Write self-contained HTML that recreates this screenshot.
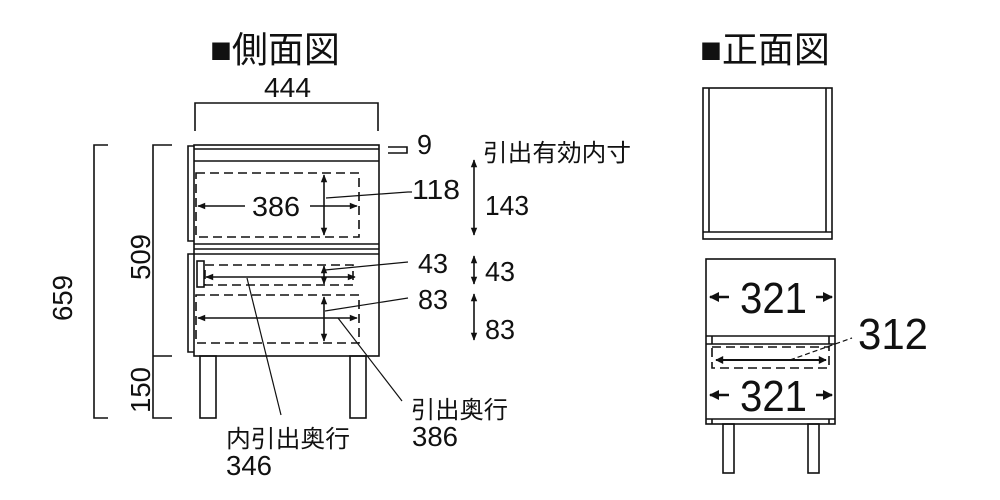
<!DOCTYPE html>
<html><head><meta charset="utf-8"><style>
html,body{margin:0;padding:0;background:#fff;}
svg{display:block;}
text{font-family:"Liberation Sans","Noto Sans CJK JP",sans-serif;fill:#111;}
</style></head><body>
<svg width="1000" height="500" viewBox="0 0 1000 500" xmlns="http://www.w3.org/2000/svg">
<defs>
<marker id="a" viewBox="0 0 10 10" refX="9" refY="5" markerWidth="7" markerHeight="5" orient="auto-start-reverse"><path d="M0,1 L10,5 L0,9 z" fill="#111"/></marker>
<marker id="b" viewBox="0 0 10 10" refX="9" refY="5" markerWidth="5" markerHeight="4" orient="auto-start-reverse"><path d="M0,0 L10,5 L0,10 z" fill="#111"/></marker>
</defs>
<text x="275" y="62" font-size="36" text-anchor="middle">■側面図</text>
<text x="765" y="62" font-size="36" text-anchor="middle">■正面図</text>

<g stroke="#111" fill="none" stroke-width="1.6">
<polyline points="195,131 195,103 378,103 378,131"/>
<rect x="194" y="145" width="185" height="211"/>
<line x1="194" y1="149" x2="379" y2="149"/>
<line x1="194" y1="161" x2="379" y2="161"/>
<line x1="194" y1="244" x2="379" y2="244"/>
<line x1="194" y1="249" x2="379" y2="249"/>
<line x1="194" y1="254" x2="379" y2="254"/>
<polyline points="194,146 188,146 188,241 194,241"/>
<polyline points="194,254 188,254 188,352 194,352"/>
<rect x="197" y="261" width="7" height="26"/>
<rect x="196" y="173" width="163" height="64" stroke-dasharray="9,5"/>
<rect x="205" y="265" width="148" height="20" stroke-dasharray="9,5"/>
<rect x="196" y="295" width="163" height="48" stroke-dasharray="9,5"/>
<line x1="245" y1="206" x2="198" y2="206" marker-end="url(#a)"/>
<line x1="310" y1="206" x2="357" y2="206" marker-end="url(#a)"/>
<line x1="324" y1="175" x2="324" y2="235" marker-start="url(#a)" marker-end="url(#a)"/>
<line x1="206" y1="277" x2="355" y2="277" marker-start="url(#a)" marker-end="url(#a)"/>
<line x1="324" y1="266" x2="324" y2="284" marker-start="url(#a)" marker-end="url(#a)"/>
<line x1="198" y1="318" x2="357" y2="318" marker-start="url(#a)" marker-end="url(#a)"/>
<line x1="324" y1="297" x2="324" y2="341" marker-start="url(#a)" marker-end="url(#a)"/>
<polyline points="326,198 408,192 412,192" stroke-width="1.2"/>
<line x1="325" y1="270" x2="408" y2="262" stroke-width="1.2"/>
<line x1="325" y1="311" x2="408" y2="298" stroke-width="1.2"/>
<line x1="338" y1="318" x2="402" y2="401" stroke-width="1.2"/>
<line x1="247" y1="278" x2="281" y2="415" stroke-width="1.2"/>
<polyline points="388,147 407,147 407,153 388,153"/>
<rect x="200" y="356" width="16" height="62"/>
<rect x="350" y="356" width="16" height="62"/>
<polyline points="108,145 94,145 94,418 108,418"/>
<polyline points="172,145 153,145 153,418 172,418"/>
<line x1="153" y1="356" x2="172" y2="356"/>
<line x1="474" y1="160" x2="474" y2="235" marker-start="url(#a)" marker-end="url(#a)"/>
<line x1="474" y1="256" x2="474" y2="284" marker-start="url(#a)" marker-end="url(#a)"/>
<line x1="474" y1="294" x2="474" y2="340" marker-start="url(#a)" marker-end="url(#a)"/>
</g>

<g font-size="28" lengthAdjust="spacingAndGlyphs">
<text x="264" y="97" textLength="47" lengthAdjust="spacingAndGlyphs">444</text>
<text x="252" y="216" textLength="48" lengthAdjust="spacingAndGlyphs">386</text>
<text x="417" y="154" textLength="15" lengthAdjust="spacingAndGlyphs">9</text>
<text x="412" y="199" textLength="48" lengthAdjust="spacingAndGlyphs">118</text>
<text x="418" y="273" textLength="30" lengthAdjust="spacingAndGlyphs">43</text>
<text x="418" y="309" textLength="30" lengthAdjust="spacingAndGlyphs">83</text>
<text x="485" y="215" textLength="44" lengthAdjust="spacingAndGlyphs">143</text>
<text x="485" y="281" textLength="30" lengthAdjust="spacingAndGlyphs">43</text>
<text x="485" y="339" textLength="30" lengthAdjust="spacingAndGlyphs">83</text>
<text x="412" y="446" textLength="46" lengthAdjust="spacingAndGlyphs">386</text>
<text x="226" y="475" textLength="46" lengthAdjust="spacingAndGlyphs">346</text>
<text transform="translate(150,257) rotate(-90)" text-anchor="middle" textLength="46" lengthAdjust="spacingAndGlyphs">509</text>
<text transform="translate(150,390) rotate(-90)" text-anchor="middle" textLength="46" lengthAdjust="spacingAndGlyphs">150</text>
<text transform="translate(72,298) rotate(-90)" text-anchor="middle" textLength="46" lengthAdjust="spacingAndGlyphs">659</text>
</g>
<g font-size="24">
<text x="483" y="161" textLength="148" lengthAdjust="spacingAndGlyphs">引出有効内寸</text>
<text x="411" y="418" textLength="97" lengthAdjust="spacingAndGlyphs">引出奥行</text>
<text x="226" y="447" textLength="124" lengthAdjust="spacingAndGlyphs">内引出奥行</text>
</g>

<g stroke="#111" fill="none" stroke-width="1.6">
<rect x="703" y="88" width="129" height="151"/>
<line x1="709" y1="88" x2="709" y2="232"/>
<line x1="826" y1="88" x2="826" y2="232"/>
<line x1="703" y1="232" x2="832" y2="232"/>
<rect x="706" y="259" width="129" height="165"/>
<line x1="706" y1="336" x2="835" y2="336"/>
<line x1="706" y1="344" x2="835" y2="344"/>
<line x1="712" y1="336" x2="712" y2="344"/>
<line x1="829" y1="336" x2="829" y2="344"/>
<line x1="706" y1="419" x2="835" y2="419"/>
<line x1="712" y1="419" x2="712" y2="424"/>
<line x1="829" y1="419" x2="829" y2="424"/>
<rect x="712" y="347" width="117" height="21" stroke-dasharray="9,5"/>
<line x1="716" y1="360" x2="826" y2="360" stroke-width="2" marker-start="url(#b)" marker-end="url(#b)"/>
<line x1="790" y1="360" x2="852" y2="338" stroke-dasharray="5,3" stroke-width="1.2"/>
<line x1="729" y1="297" x2="710" y2="297" stroke-width="2.5" marker-end="url(#b)"/>
<line x1="816" y1="297" x2="832" y2="297" stroke-width="2.5" marker-end="url(#b)"/>
<line x1="729" y1="395" x2="710" y2="395" stroke-width="2.5" marker-end="url(#b)"/>
<line x1="816" y1="395" x2="832" y2="395" stroke-width="2.5" marker-end="url(#b)"/>
<rect x="723" y="424" width="11" height="49"/>
<rect x="808" y="424" width="11" height="49"/>
</g>
<g font-size="44">
<text x="740" y="313" textLength="67" lengthAdjust="spacingAndGlyphs">321</text>
<text x="740" y="411" textLength="67" lengthAdjust="spacingAndGlyphs">321</text>
<text x="858" y="349" textLength="70" lengthAdjust="spacingAndGlyphs">312</text>
</g>
</svg>
</body></html>
